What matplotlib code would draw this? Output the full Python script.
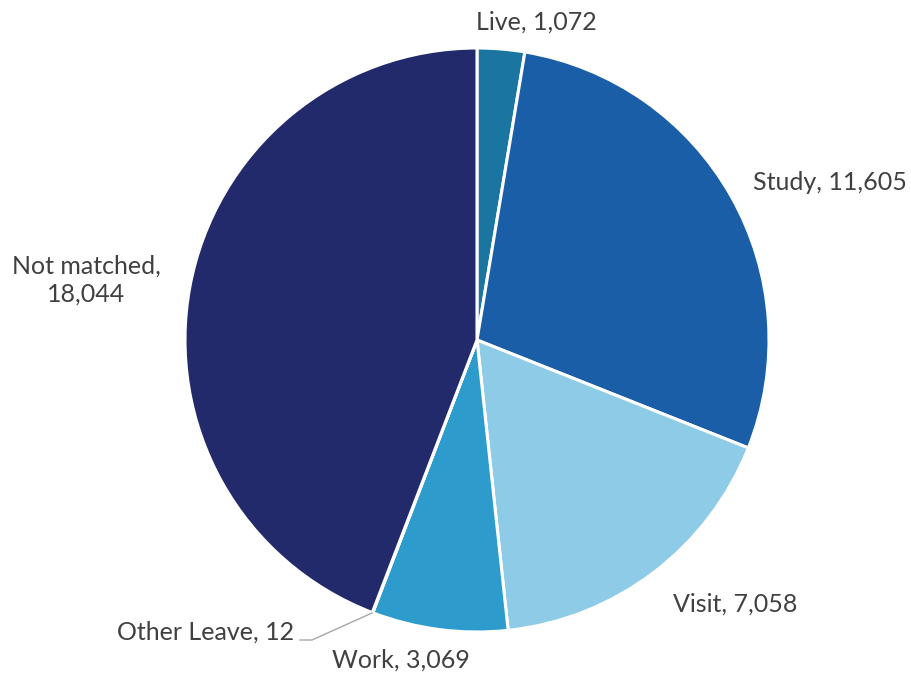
import matplotlib
matplotlib.use("Agg")
import matplotlib.pyplot as plt

categories = ["Live", "Study", "Visit", "Work", "Other Leave", "Not matched"]
values = [1072, 11605, 7058, 3069, 12, 18044]
colors = ["#1a76a0", "#1a5ea8", "#8ecbe6", "#2e9bcd", "#3a7fc0", "#232a6b"]
label_texts = ["Live, 1,072", "Study, 11,605", "Visit, 7,058", "Work, 3,069",
               "Other Leave, 12", "Not matched,\n18,044"]

W, H = 911, 677
fig = plt.figure(figsize=(W / 100, H / 100), dpi=100)
cx, cy, r = 477, 340, 292
ax = fig.add_axes([(cx - r) / W, (H - cy - r) / H, 2 * r / W, 2 * r / H])
ax.pie(values, colors=colors, startangle=90, counterclock=False, radius=1,
       wedgeprops=dict(edgecolor="white", linewidth=2.2))
ax.set_xlim(-1, 1)
ax.set_ylim(-1, 1)
ax.set_aspect("equal")
ax.axis("off")

def px(x, y):
    return (x - cx) / r, (cy - y) / r

positions = {
    "Live": (536, 22),
    "Study": (830, 183),
    "Visit": (735, 604),
    "Work": (401, 660),
    "Other Leave": (206, 632),
    "Not matched": (86, 280),
}
font = dict(family=["Lato", "DejaVu Sans"], fontsize=18, color="#404040")
for cat, txt in zip(categories, label_texts):
    x, y = px(*positions[cat])
    ax.text(x, y, txt, ha="center", va="center", clip_on=False,
            linespacing=1.3, **font)

# leader line for Other Leave
p1 = px(300, 640)
p2 = px(312, 640)
p3 = px(372, 613)
ax.plot([p1[0], p2[0], p3[0]], [p1[1], p2[1], p3[1]], color="#a6a6a6",
        linewidth=1.0, clip_on=False)

fig.savefig("out.png", dpi=100, facecolor="white")
